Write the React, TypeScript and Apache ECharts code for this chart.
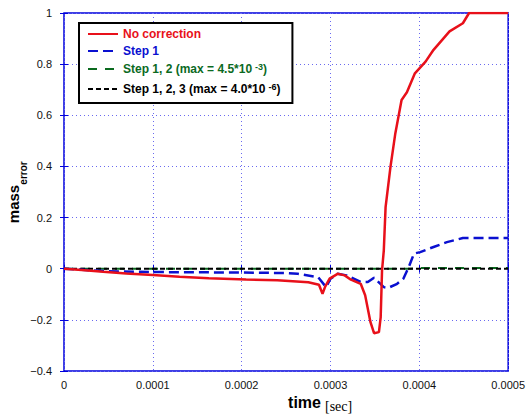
import React, { useEffect, useRef } from "react";
import * as echarts from "echarts";

const redT = [0, 0.00002, 0.000044, 0.00007, 0.0001, 0.00013, 0.000163, 0.000205, 0.00024, 0.000275, 0.000287, 0.000291, 0.000294, 0.000299, 0.000308, 0.000316, 0.000323, 0.000334, 0.000339, 0.000345, 0.000349, 0.0003545, 0.0003565, 0.000358, 0.00036, 0.000362, 0.0003675, 0.000373, 0.00038, 0.000386, 0.000395, 0.000407, 0.000416, 0.000434, 0.000449, 0.000456, 0.0005];
const redV = [0, -0.005, -0.012, -0.019, -0.025, -0.031, -0.037, -0.042, -0.045, -0.053, -0.063, -0.098, -0.07, -0.039, -0.02, -0.026, -0.043, -0.059, -0.104, -0.209, -0.252, -0.248, -0.189, -0.007, 0.072, 0.241, 0.398, 0.53, 0.66, 0.69, 0.764, 0.81, 0.856, 0.928, 0.96, 1.0, 1.0];

const blueT = [0, 0.00002, 0.00005, 0.0001, 0.00015, 0.0002, 0.00025, 0.000263, 0.000286, 0.000295, 0.0003, 0.000308, 0.000318, 0.000334, 0.000342, 0.000349, 0.00036, 0.000365, 0.000375, 0.000382, 0.000388, 0.000394, 0.000401, 0.000416, 0.000431, 0.000449, 0.0005];
const blueV = [0, -0.004, -0.01, -0.013, -0.014, -0.015, -0.017, -0.02, -0.033, -0.072, -0.039, -0.02, -0.026, -0.052, -0.052, -0.035, -0.072, -0.075, -0.059, -0.039, 0.006, 0.059, 0.065, 0.085, 0.104, 0.12, 0.12];

const greenT = [0, 0.0001, 0.0002, 0.0003, 0.00039, 0.0004, 0.0005];
const greenV = [0, 0, 0, 0, 0, 0.003, 0.003];

const blackT = [0, 0.0001, 0.0002, 0.0003, 0.0004, 0.0005];
const blackV = [0, 0, 0, 0, 0, 0];

const seriesNames = [
  "No correction",
  "Step 1",
  "Step 1, 2 (max = 4.5*10 -3)",
  "Step 1, 2, 3 (max = 4.0*10 -6)",
];

const RED = "#e8101a";
const BLUE = "#0a10d0";
const GREEN = "#0b6a1f";
const BLACK = "#000000";
const AXIS_BLUE = "#0000dd";
const GRID_BLUE = "#6a6af0";

const pairs = (t: number[], v: number[]) => t.map((x, i) => [x, v[i]]);

export default function App() {
  const ref = useRef<HTMLDivElement>(null);
  useEffect(() => {
    if (!ref.current) return;
    const chart = echarts.init(ref.current, undefined, { renderer: "svg" });
    const labelFont = "Liberation Sans";
    const richFor = (color: string) => ({
      a: { color, fontWeight: "bold", fontSize: 12, fontFamily: labelFont, lineHeight: 14 },
      s: { color, fontWeight: "bold", fontSize: 9, fontFamily: labelFont, verticalAlign: "top", lineHeight: 14, padding: [0, 0, 6, 3] },
    });
    const fmt = (name: string) => {
      const m = name.match(/^(.*) (-\d)\)$/);
      if (m) return `{a|${m[1]}}{s|${m[2]}}{a|)}`;
      return `{a|${name}}`;
    };
    const colors = [RED, BLUE, GREEN, BLACK];
    chart.setOption({
      animation: false,
      grid: {
        left: 64,
        top: 13,
        right: 16,
        bottom: 47,
        show: true,
        borderColor: AXIS_BLUE,
        borderWidth: 1.5,
        containLabel: false,
      },
      legend: {
        orient: "vertical",
        left: 79,
        top: 23,
        width: 205,
        itemWidth: 30,
        itemHeight: 14,
        itemGap: 5,
        padding: [5, 12, 6, 8],
        borderColor: "#000",
        borderWidth: 2,
        backgroundColor: "#fff",
        itemStyle: { opacity: 0 },
        data: seriesNames.map((n, i) => ({
          name: n,
          textStyle: { color: colors[i], rich: richFor(colors[i]) },
        })),
        formatter: fmt,
        textStyle: { fontWeight: "bold", fontSize: 12, fontFamily: labelFont },
      },
      xAxis: [
        {
          type: "value",
          min: 0,
          max: 0.0005,
          interval: 0.0001,
          axisLine: { show: false },
          axisTick: { show: true, inside: true, length: 4, lineStyle: { color: AXIS_BLUE } },
          splitLine: { show: true, lineStyle: { color: GRID_BLUE, type: [1, 3], width: 1 } },
          axisLabel: {
            margin: 8,
            color: "#111",
            fontSize: 11,
            fontFamily: labelFont,
            formatter: (v: number) => (v === 0 ? "0" : v.toFixed(4)),
          },
        },
        {
          type: "value",
          position: "top",
          min: 0,
          max: 0.0005,
          interval: 0.0001,
          axisLine: { show: false },
          axisTick: { show: true, inside: true, length: 4, lineStyle: { color: AXIS_BLUE } },
          splitLine: { show: false },
          axisLabel: { show: false },
        },
      ],
      yAxis: [
        {
          type: "value",
          min: -0.4,
          max: 1,
          interval: 0.2,
          axisLine: { show: false },
          axisTick: { show: true, inside: true, length: 4, lineStyle: { color: AXIS_BLUE } },
          splitLine: { show: true, lineStyle: { color: GRID_BLUE, type: [1, 3], width: 1 } },
          axisLabel: {
            margin: 12,
            color: "#111",
            fontSize: 11,
            fontFamily: labelFont,
            formatter: (v: number) => {
              const r = Math.round(v * 10) / 10;
              if (r === 0) return "0";
              return String(r).replace("-", "\u2212");
            },
          },
        },
        {
          type: "value",
          position: "right",
          min: -0.4,
          max: 1,
          interval: 0.2,
          axisLine: { show: false },
          axisTick: { show: true, inside: true, length: 4, lineStyle: { color: AXIS_BLUE } },
          splitLine: { show: false },
          axisLabel: { show: false },
        },
      ],
      series: [
        {
          name: seriesNames[3],
          type: "line",
          symbol: "none",
          data: pairs(blackT, blackV),
          lineStyle: { color: BLACK, width: 2, type: [5, 3] },
          itemStyle: { color: BLACK },
          z: 3,
        },
        {
          name: seriesNames[2],
          type: "line",
          symbol: "none",
          data: pairs(greenT, greenV),
          lineStyle: { color: GREEN, width: 2, type: [9, 8] },
          itemStyle: { color: GREEN },
          z: 2,
        },
        {
          name: seriesNames[1],
          type: "line",
          symbol: "none",
          data: pairs(blueT, blueV),
          lineStyle: { color: BLUE, width: 2.5, type: [10, 5] },
          itemStyle: { color: BLUE },
          z: 4,
        },
        {
          name: seriesNames[0],
          type: "line",
          symbol: "none",
          data: pairs(redT, redV),
          lineStyle: { color: RED, width: 2.5 },
          itemStyle: { color: RED },
          z: 5,
        },
      ],
      graphic: [
        {
          type: "text",
          x: 13.5,
          y: 204,
          rotation: Math.PI / 2,
          style: {
            text: "mass",
            font: "bold 15px 'Liberation Sans'",
            fill: "#000",
            textAlign: "center",
            textVerticalAlign: "middle",
          },
        },
        {
          type: "text",
          x: 23.5,
          y: 173,
          rotation: Math.PI / 2,
          style: {
            text: "error",
            font: "bold 10px 'Liberation Sans'",
            fill: "#000",
            textAlign: "center",
            textVerticalAlign: "middle",
          },
        },
        {
          type: "text",
          x: 321,
          y: 402,
          style: {
            text: "time",
            font: "bold 16px 'Liberation Sans'",
            fill: "#000",
            textAlign: "right",
            textVerticalAlign: "middle",
          },
        },
        {
          type: "text",
          x: 325,
          y: 406,
          style: {
            text: "[sec]",
            font: "14px 'Liberation Serif'",
            fill: "#000",
            textAlign: "left",
            textVerticalAlign: "middle",
          },
        },
      ],
    });
    return () => chart.dispose();
  }, []);
  return (
    <div
      ref={ref}
      style={{ position: "fixed", left: 0, top: 0, width: 528, height: 418, background: "#fff" }}
    />
  );
}
